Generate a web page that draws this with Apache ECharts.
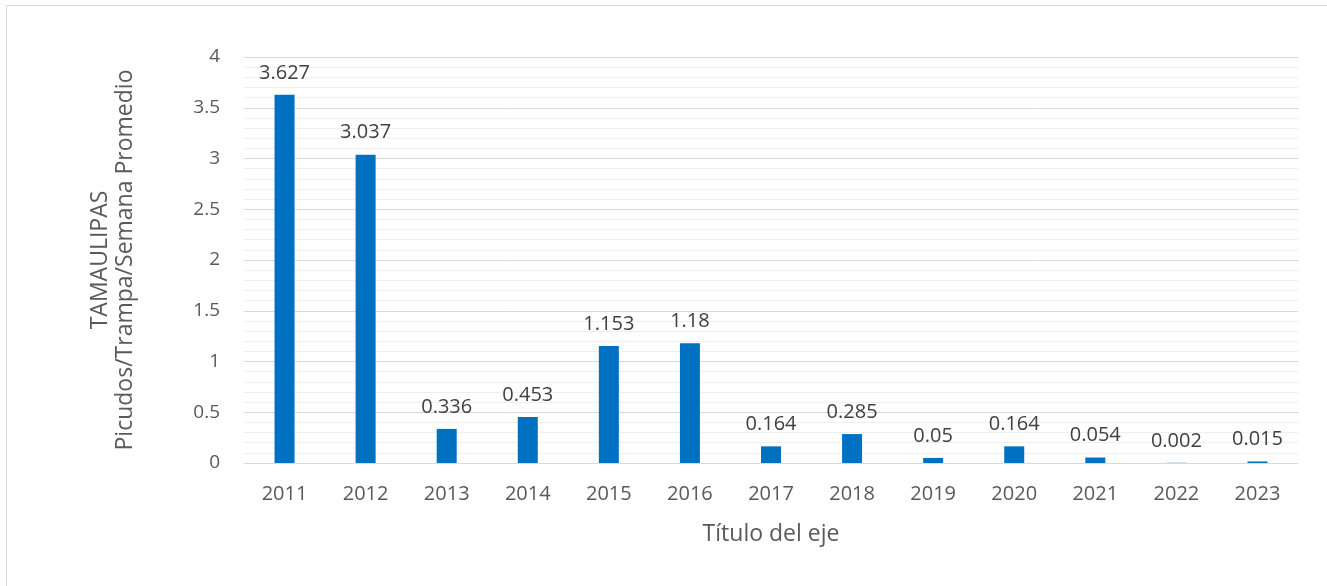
<!DOCTYPE html>
<html>
<head>
<meta charset="utf-8">
<script src="https://cdn.jsdelivr.net/npm/echarts@6/dist/echarts.min.js"></script>
<style>
  html, body { margin: 0; padding: 0; background: #fff; }
  #chart { width: 1327px; height: 586px; }
</style>
</head>
<body>
<div id="chart"></div>
<script>
// años y promedio de picudos por trampa por semana
const years = ['2011', '2012', '2013', '2014', '2015', '2016', '2017', '2018', '2019', '2020', '2021', '2022', '2023']
const values = [3.627, 3.037, 0.336, 0.453, 1.153, 1.18, 0.164, 0.285, 0.05, 0.164, 0.054, 0.002, 0.015]
const yTitle = 'TAMAULIPAS\nPicudos/Trampa/Semana Promedio'
const xTitle = 'Título del eje'

const font = '"Open Sans", sans-serif'
const chart = echarts.init(document.getElementById('chart'))

chart.setOption({
  animation: false,
  textStyle: { fontFamily: font },
  graphic: [{
    type: 'rect',
    shape: { x: 6.5, y: 5.5, width: 1330, height: 600 },
    style: { fill: 'none', stroke: '#d9d9d9', lineWidth: 1 },
    silent: true
  }],
  grid: {
    left: 244,
    right: 29,
    top: 57,
    bottom: 123
  },
  xAxis: {
    type: 'category',
    data: years,
    name: xTitle,
    nameLocation: 'middle',
    nameGap: 60,
    nameTextStyle: { color: '#595959', fontSize: 23, fontFamily: font },
    axisLine: { lineStyle: { color: '#d9d9d9' } },
    axisTick: { show: false },
    axisLabel: { color: '#595959', fontSize: 20, margin: 21, fontFamily: font }
  },
  yAxis: {
    type: 'value',
    min: 0,
    max: 4,
    interval: 0.5,
    name: yTitle,
    nameLocation: 'middle',
    nameGap: 106,
    nameTextStyle: { color: '#595959', fontSize: 23, lineHeight: 25, fontFamily: font },
    axisLine: { show: false },
    axisTick: { show: false },
    axisLabel: { color: '#595959', fontSize: 19, margin: 24, fontFamily: font },
    splitLine: { lineStyle: { color: '#d9d9d9' } },
    minorTick: { show: false, splitNumber: 5 },
    minorSplitLine: { show: true, lineStyle: { color: '#efefef' } }
  },
  series: [{
    type: 'bar',
    data: values,
    barWidth: 20,
    itemStyle: { color: '#0070c0' },
    label: {
      show: true,
      position: 'top',
      distance: 12,
      color: '#404040',
      fontSize: 20,
      fontFamily: font
    }
  }]
})
</script>
</body>
</html>
